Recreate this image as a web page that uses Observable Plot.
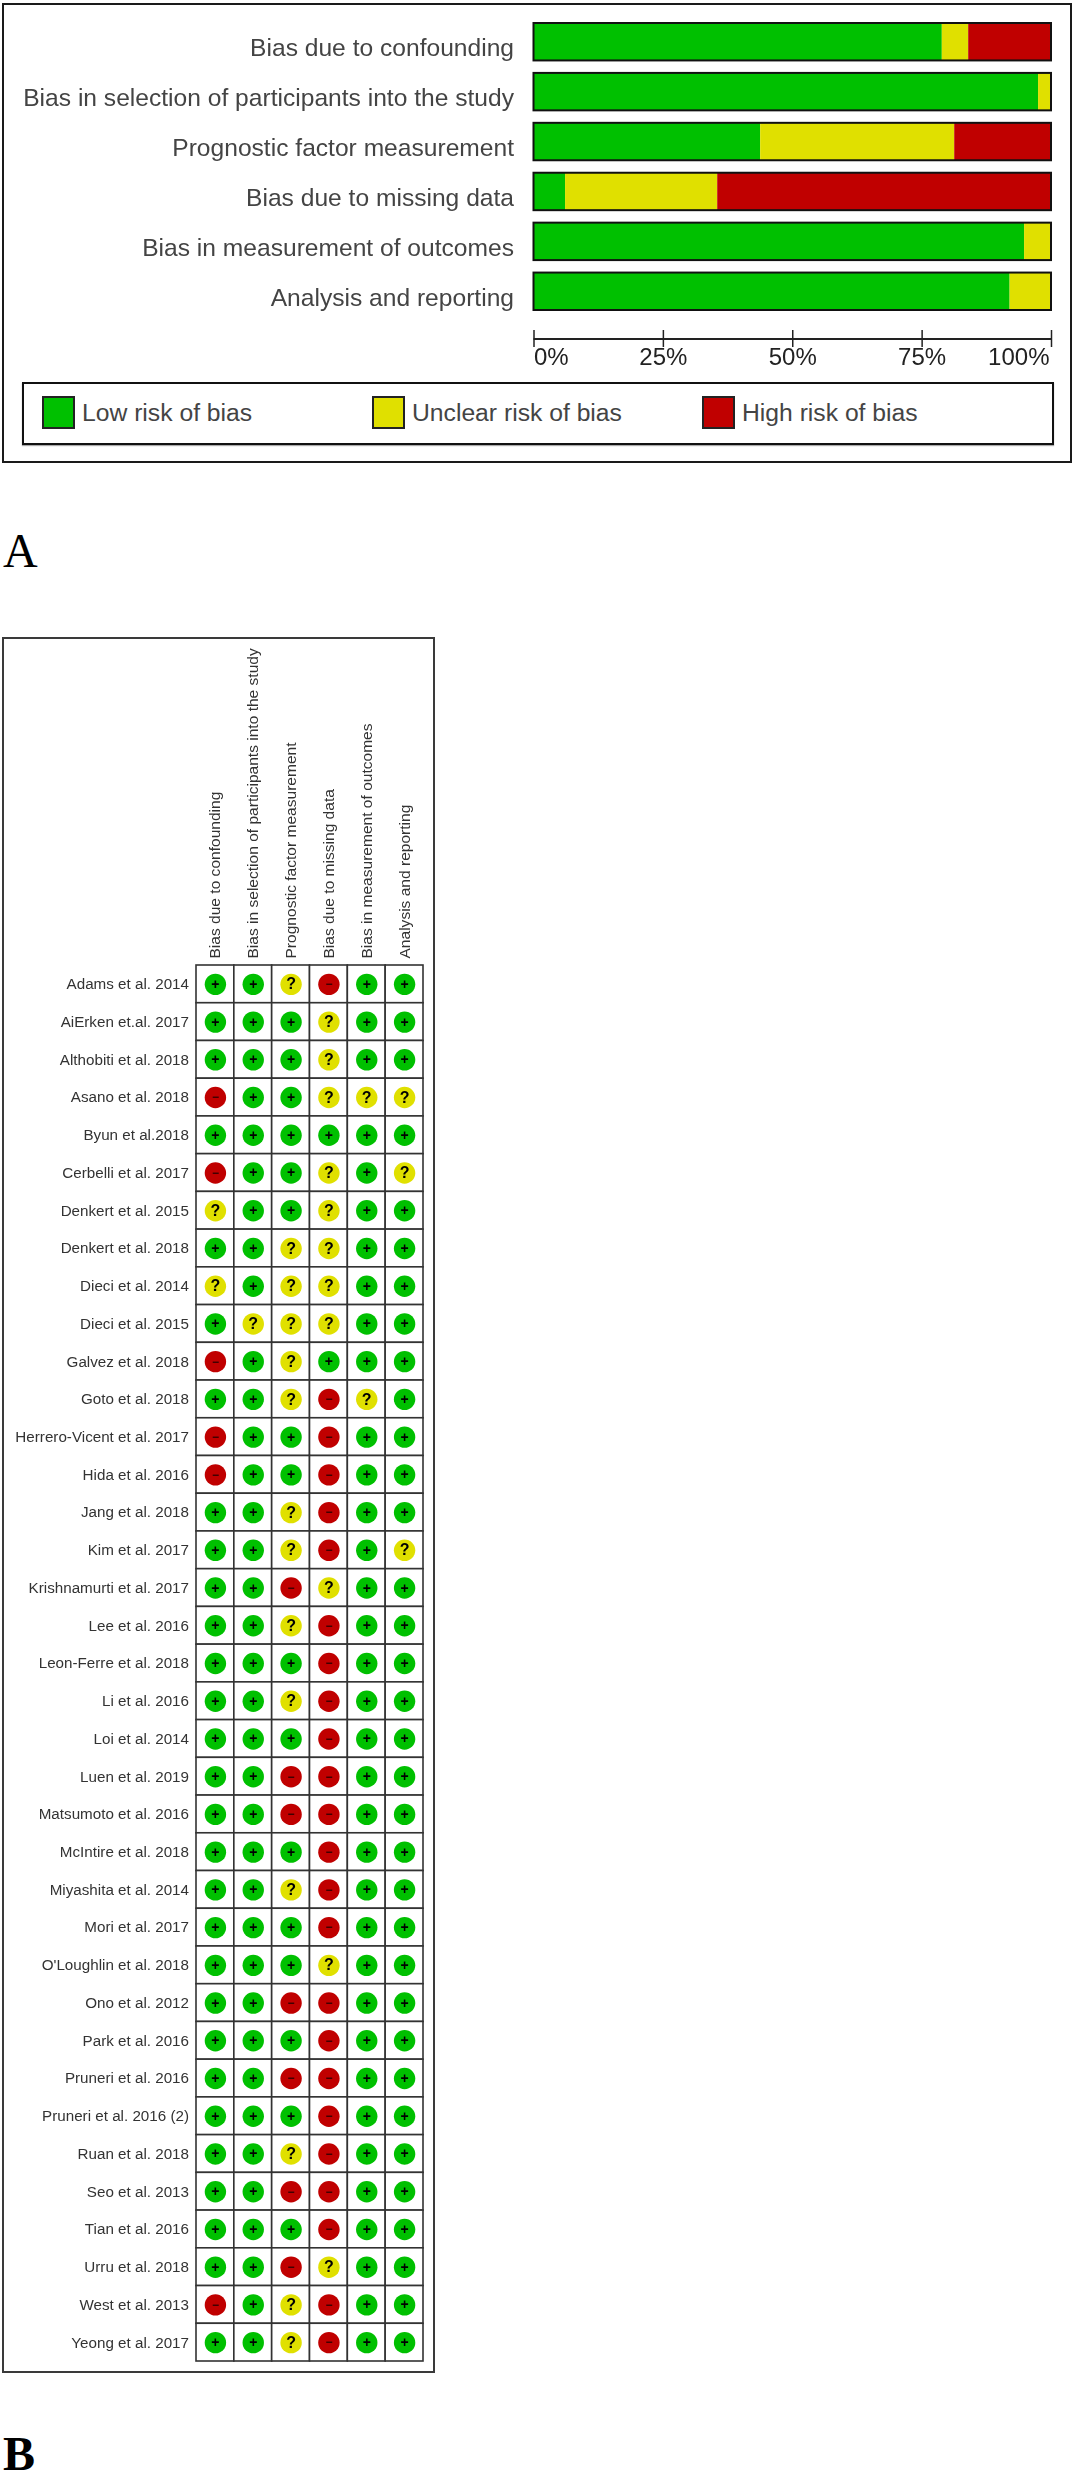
<!DOCTYPE html>
<html>
<head>
<meta charset="utf-8">
<script src="https://cdn.jsdelivr.net/npm/d3@7"></script>
<script src="https://cdn.jsdelivr.net/npm/@observablehq/plot@0.6"></script>
<style>
  html, body { margin: 0; padding: 0; background: #fff; }
  #page { position: relative; width: 1075px; height: 2481px; overflow: hidden; font-family: "Liberation Sans", Arial, sans-serif; }
  .abs { position: absolute; }
  .abs svg { display: block; max-width: none; background: transparent; }
  #frameA { left: 2px; top: 3px; width: 1070px; height: 460px; border: 2px solid #1a1a1a; box-sizing: border-box; }
  #frameB { left: 2px; top: 637px; width: 433px; height: 1736px; border: 2px solid #3a3a3a; box-sizing: border-box; }
  #legend { left: 22px; top: 382px; width: 1032px; height: 63px; border: 2px solid #111; box-sizing: border-box; box-shadow: 0 1px 1px #aaa; }
  .swatch { position: absolute; top: 396px; width: 33px; height: 33px; border: 2px solid #222; box-sizing: border-box; }
  .legendLabel { position: absolute; top: 398px; font-size: 24.7px; line-height: 30px; color: #444; white-space: nowrap; }
  .panel { position: absolute; font-family: "Liberation Serif", "Times New Roman", serif; font-size: 48px; line-height: 38px; color: #000; }
  #barsA, #axisA, #matrixB { filter: blur(0.35px); }
</style>
</head>
<body>
<div id="page">
  <div class="abs" id="frameA"></div>
  <div class="abs" id="frameB"></div>
  <div class="abs" id="legend"></div>
  <div class="abs" id="barsA"></div>
  <div class="abs" id="axisA"></div>
  <div class="abs" id="matrixB"></div>
  <div class="panel" style="left:3px;top:532px">A</div>
  <div class="panel" style="left:3px;top:2435px;font-weight:bold">B</div>
</div>
<script>
const domains = [
  "Bias due to confounding",
  "Bias in selection of participants into the study",
  "Prognostic factor measurement",
  "Bias due to missing data",
  "Bias in measurement of outcomes",
  "Analysis and reporting"
];
const riskLabels = ["Low risk of bias", "Unclear risk of bias", "High risk of bias"];
const riskColors = ["#00c000", "#e0e000", "#c00000"];
const lowPct     = [78.9, 97.5, 43.8,  6.1, 94.8, 92.0];
const unclearPct = [ 5.1,  2.5, 37.5, 29.4,  5.2,  8.0];
const highPct    = [16.0,  0.0, 18.7, 64.5,  0.0,  0.0];
const axisTicks  = [0, 25, 50, 75, 100];

const studies = [
  "Adams et al. 2014", "AiErken et.al. 2017", "Althobiti et al. 2018", "Asano et al. 2018",
  "Byun et al.2018", "Cerbelli et al. 2017", "Denkert et al. 2015", "Denkert et al. 2018",
  "Dieci et al. 2014", "Dieci et al. 2015", "Galvez et al. 2018", "Goto et al. 2018",
  "Herrero-Vicent et al. 2017", "Hida et al. 2016", "Jang et al. 2018", "Kim et al. 2017",
  "Krishnamurti et al. 2017", "Lee et al. 2016", "Leon-Ferre et al. 2018", "Li et al. 2016",
  "Loi et al. 2014", "Luen et al. 2019", "Matsumoto et al. 2016", "McIntire et al. 2018",
  "Miyashita et al. 2014", "Mori et al. 2017", "O'Loughlin et al. 2018", "Ono et al. 2012",
  "Park et al. 2016", "Pruneri et al. 2016", "Pruneri et al. 2016 (2)", "Ruan et al. 2018",
  "Seo et al. 2013", "Tian et al. 2016", "Urru et al. 2018", "West et al. 2013", "Yeong et al. 2017"
];
// One string per study, one symbol per domain, in the order of `domains`
const ratings = [
  "++?-++", "+++?++", "+++?++", "-++???",
  "++++++", "-++?+?", "?++?++", "++??++",
  "?+??++", "+???++", "-+?+++", "++?-?+",
  "-++-++", "-++-++", "++?-++", "++?-+?",
  "++-?++", "++?-++", "+++-++", "++?-++",
  "+++-++", "++--++", "++--++", "+++-++",
  "++?-++", "+++-++", "+++?++", "++--++",
  "+++-++", "++--++", "+++-++", "++?-++",
  "++--++", "+++-++", "++-?++", "-+?-++", "++?-++"
];
const symbolToRisk = {"+": riskLabels[0], "?": riskLabels[1], "-": riskLabels[2]};
const symbolGlyph  = {"+": "+", "?": "?", "-": "\u2212"};
const glyphSize    = {"+": 14, "?": 16, "-": 12};
const glyphColor   = {"+": "#000", "?": "#000", "-": "#300000"};

const colorScale = {domain: riskLabels, range: riskColors};
const font = '"Liberation Sans", Arial, sans-serif';

// ---------- Panel A: stacked bars ----------
const barRows = domains.flatMap((domain, i) => [
  {domain, risk: riskLabels[0], pct: lowPct[i]},
  {domain, risk: riskLabels[1], pct: unclearPct[i]},
  {domain, risk: riskLabels[2], pct: highPct[i]}
]);

const barsPlot = Plot.plot({
  width: 1075, height: 312,
  marginLeft: 533.5, marginRight: 24, marginTop: 23, marginBottom: 2,
  style: {fontFamily: font, fontSize: "24.6px", color: "#444", overflow: "visible"},
  x: {domain: [0, 100], axis: null},
  y: {domain: domains, paddingInner: 0.25, paddingOuter: 0, round: false, label: null},
  color: colorScale,
  marks: [
    Plot.barX(barRows, {x: "pct", y: "domain", fill: "risk"}),
    Plot.barX(domains, {x1: 0, x2: 100, y: d => d, fill: "none", stroke: "#111", strokeWidth: 2}),
    Plot.axisY({tickSize: 0, tickPadding: 20, dy: 6, label: null, fill: "#444"})
  ]
});
document.getElementById("barsA").append(barsPlot);
document.getElementById("barsA").style.cssText += "left:0;top:0;";

// ---------- Panel A: axis ----------
const pct = d => d + "%";
const axisOpts = {tickSize: 0, tickPadding: 0, tickFormat: pct, label: null, fill: "#222"};
const axisPlot = Plot.plot({
  width: 1075, height: 60,
  marginLeft: 533.5, marginRight: 24, marginTop: 10, marginBottom: 33,
  style: {fontFamily: font, fontSize: "24px", overflow: "visible"},
  x: {domain: [0, 100]},
  y: {domain: [0, 1], axis: null},
  marks: [
    Plot.ruleY([0.5], {stroke: "#222", strokeWidth: 2}),
    Plot.tickX(axisTicks, {x: d => d, stroke: "#222", strokeWidth: 1.5}),
    Plot.axisX(axisTicks.slice(0, 1), {...axisOpts, textAnchor: "start"}),
    Plot.axisX(axisTicks.slice(1, 4), {...axisOpts, textAnchor: "middle"}),
    Plot.axisX(axisTicks.slice(4), {...axisOpts, textAnchor: "end", dx: -2})
  ]
});
const axisHost = document.getElementById("axisA");
axisHost.append(axisPlot);
axisHost.style.cssText += "left:0;top:320px;";

// ---------- Panel A: legend ----------
const page = document.getElementById("page");
const swatchLeft = [42, 372, 702];
riskLabels.forEach((label, i) => {
  const s = document.createElement("div");
  s.className = "swatch";
  s.style.left = swatchLeft[i] + "px";
  s.style.background = riskColors[i];
  page.append(s);
  const t = document.createElement("div");
  t.className = "legendLabel";
  t.style.left = (swatchLeft[i] + 40) + "px";
  t.textContent = label;
  page.append(t);
});

// ---------- Panel B: traffic-light matrix ----------
const matrixRows = studies.flatMap((study, r) =>
  domains.map((domain, c) => ({study, domain, symbol: ratings[r][c]}))
);

const matrixPlot = Plot.plot({
  width: 436, height: 1736,
  marginLeft: 196, marginRight: 13, marginTop: 328, marginBottom: 12,
  style: {fontFamily: font, fontSize: "15.2px", color: "#333", overflow: "visible"},
  x: {domain: domains, padding: 0, round: false, label: null},
  y: {domain: studies, padding: 0, round: false, label: null},
  color: colorScale,
  marks: [
    Plot.cell(matrixRows, {x: "domain", y: "study", fill: "white", stroke: "#333", strokeWidth: 1.6}),
    Plot.dot(matrixRows, {x: "domain", y: "study", r: 10.7, fill: d => symbolToRisk[d.symbol]}),
    Plot.text(matrixRows, {x: "domain", y: "study", text: d => symbolGlyph[d.symbol],
                           fill: d => glyphColor[d.symbol], fontSize: d => glyphSize[d.symbol],
                           fontWeight: "bold"}),
    Plot.axisY({tickSize: 0, tickPadding: 7.5, label: null, fill: "#333"}),
    Plot.axisX({anchor: "top", tickRotate: -90, tickSize: 0, tickPadding: 7, label: null, fill: "#333",
                fontSize: 15.55})
  ]
});
const matrixHost = document.getElementById("matrixB");
matrixHost.append(matrixPlot);
matrixHost.style.cssText += "left:0;top:637px;";
</script>
</body>
</html>
